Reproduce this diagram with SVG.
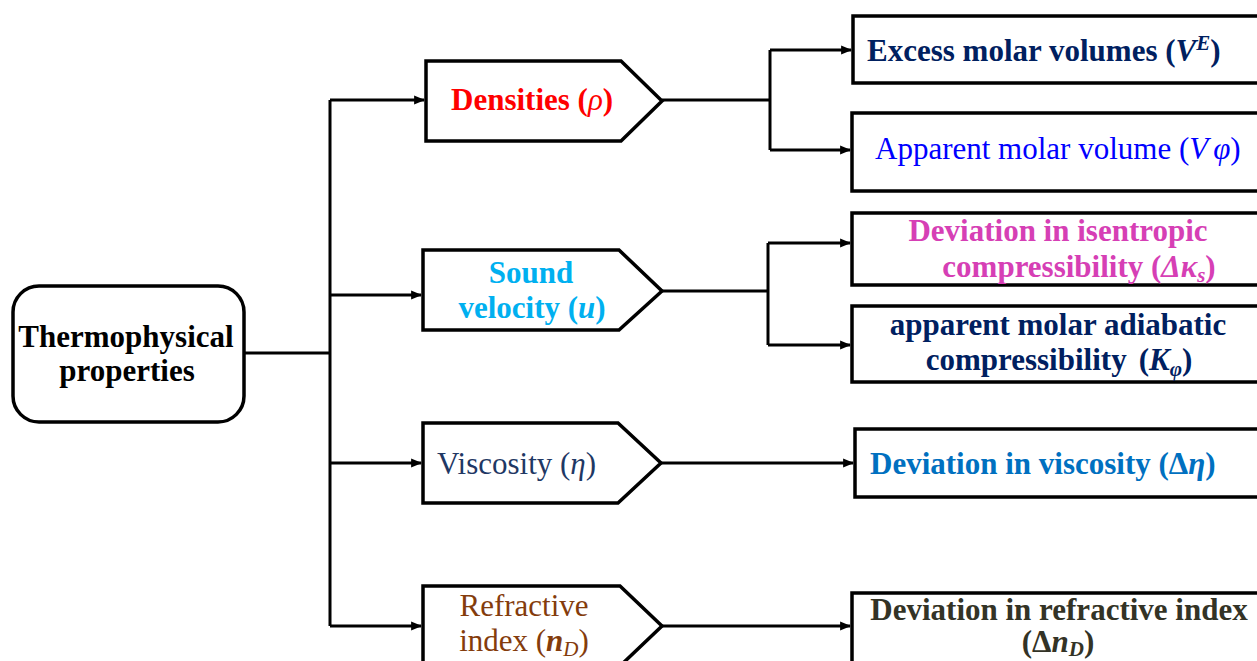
<svg xmlns="http://www.w3.org/2000/svg" width="1257" height="661" viewBox="0 0 1257 661">
<defs>
<marker id="ah" viewBox="0 0 10 10" refX="9" refY="5" markerWidth="11" markerHeight="11" markerUnits="userSpaceOnUse" orient="auto">
<path d="M0,1 L10,5 L0,9 z" fill="#000"/>
</marker>
<style>
.box{fill:#fff;stroke:#000;stroke-width:3.5}
.ln{fill:none;stroke:#000;stroke-width:3}
.t{font-family:"Liberation Serif","Times New Roman",serif;font-size:31px}
.b{font-weight:bold}
.i{font-style:italic}
</style>
</defs>
<rect width="1257" height="661" fill="#fff"/>
<g id="connectors">
<path class="ln" d="M244,353 H330"/>
<path class="ln" d="M330,100 V626"/>
<path class="ln" d="M330,100 H424" marker-end="url(#ah)"/>
<path class="ln" d="M330,295 H421" marker-end="url(#ah)"/>
<path class="ln" d="M330,463 H421" marker-end="url(#ah)"/>
<path class="ln" d="M330,626 H421" marker-end="url(#ah)"/>
<path class="ln" d="M662,100 H770"/>
<path class="ln" d="M770,50 V150"/>
<path class="ln" d="M770,50 H851" marker-end="url(#ah)"/>
<path class="ln" d="M770,150 H850" marker-end="url(#ah)"/>
<path class="ln" d="M662,291 H768"/>
<path class="ln" d="M768,243 V345"/>
<path class="ln" d="M768,243 H850" marker-end="url(#ah)"/>
<path class="ln" d="M768,345 H850" marker-end="url(#ah)"/>
<path class="ln" d="M661,463 H853" marker-end="url(#ah)"/>
<path class="ln" d="M662,626 H850" marker-end="url(#ah)"/>
</g>
<g id="thermo">
<rect class="box" x="13" y="286" width="231" height="136" rx="26"/>
<text class="t b" x="126" y="347" text-anchor="middle" fill="#000">Thermophysical</text>
<text class="t b" x="127" y="381" text-anchor="middle" fill="#000">properties</text>
</g>
<g id="densities">
<path class="box" d="M426,61 H621 L662,101 L621,141 H426 Z"/>
<text class="t b" x="451" y="110" fill="#FF0000">Densities (<tspan class="i" font-weight="normal">ρ</tspan>)</text>
</g>
<g id="sound">
<path class="box" d="M423,250 H619 L662,291 L619,330 H423 Z"/>
<text class="t b" x="531" y="283" text-anchor="middle" fill="#00B0F0">Sound</text>
<text class="t b" x="532" y="318" text-anchor="middle" fill="#00B0F0">velocity (<tspan class="i">u</tspan>)</text>
</g>
<g id="viscosity">
<path class="box" d="M423,423 H618 L661,463 L618,503 H423 Z"/>
<text class="t" x="437" y="474" fill="#1F3864">Viscosity (<tspan class="i">η</tspan>)</text>
</g>
<g id="refractive">
<path class="box" d="M423,586 H620 L662,626 L620,666 H423 Z"/>
<text class="t" x="524" y="616" text-anchor="middle" fill="#843C0C">Refractive</text>
<text class="t" x="524" y="651" text-anchor="middle" fill="#843C0C">index (<tspan class="i b">n</tspan><tspan class="i" font-size="21" dy="5">D</tspan><tspan dy="-5">)</tspan></text>
</g>
<g id="excess">
<rect class="box" x="853" y="16" width="420" height="67"/>
<text class="t b" x="867" y="61" fill="#002060">Excess molar volumes (<tspan class="i">V</tspan><tspan class="i" font-size="21" dy="-11">E</tspan><tspan dy="11">)</tspan></text>
</g>
<g id="apparent-volume">
<rect class="box" x="852" y="113" width="420" height="78"/>
<text class="t" x="875" y="159" fill="#0000FF">Apparent molar volume (<tspan class="i">V</tspan><tspan class="i" dx="5">φ</tspan>)</text>
</g>
<g id="isentropic">
<rect class="box" x="852" y="213" width="420" height="72"/>
<text class="t b" x="1058" y="241" text-anchor="middle" fill="#D63FB5">Deviation in isentropic</text>
<text class="t b" x="1079" y="277" text-anchor="middle" fill="#D63FB5">compressibility (<tspan class="i">Δκ</tspan><tspan class="i" font-size="21" dy="5">s</tspan><tspan dy="-5">)</tspan></text>
</g>
<g id="adiabatic">
<rect class="box" x="852" y="306" width="420" height="76"/>
<text class="t b" x="1058" y="335" text-anchor="middle" fill="#002060">apparent molar adiabatic</text>
<text class="t b" x="1059" y="370" text-anchor="middle" fill="#002060">compressibility<tspan dx="12">(</tspan><tspan class="i">K</tspan><tspan class="i" font-size="21" dy="6">φ</tspan><tspan dy="-6">)</tspan></text>
</g>
<g id="dev-viscosity">
<rect class="box" x="855" y="429" width="420" height="68"/>
<text class="t b" x="870" y="474" fill="#0070C0">Deviation in viscosity (Δ<tspan class="i">η</tspan>)</text>
</g>
<g id="dev-refractive">
<rect class="box" x="852" y="593" width="420" height="80"/>
<text class="t b" x="1059" y="620" text-anchor="middle" fill="#333326">Deviation in refractive index</text>
<text class="t b" x="1058" y="652" text-anchor="middle" fill="#333326">(Δ<tspan class="i">n</tspan><tspan class="i" font-size="21" dy="4">D</tspan><tspan dy="-4">)</tspan></text>
</g>
</svg>
